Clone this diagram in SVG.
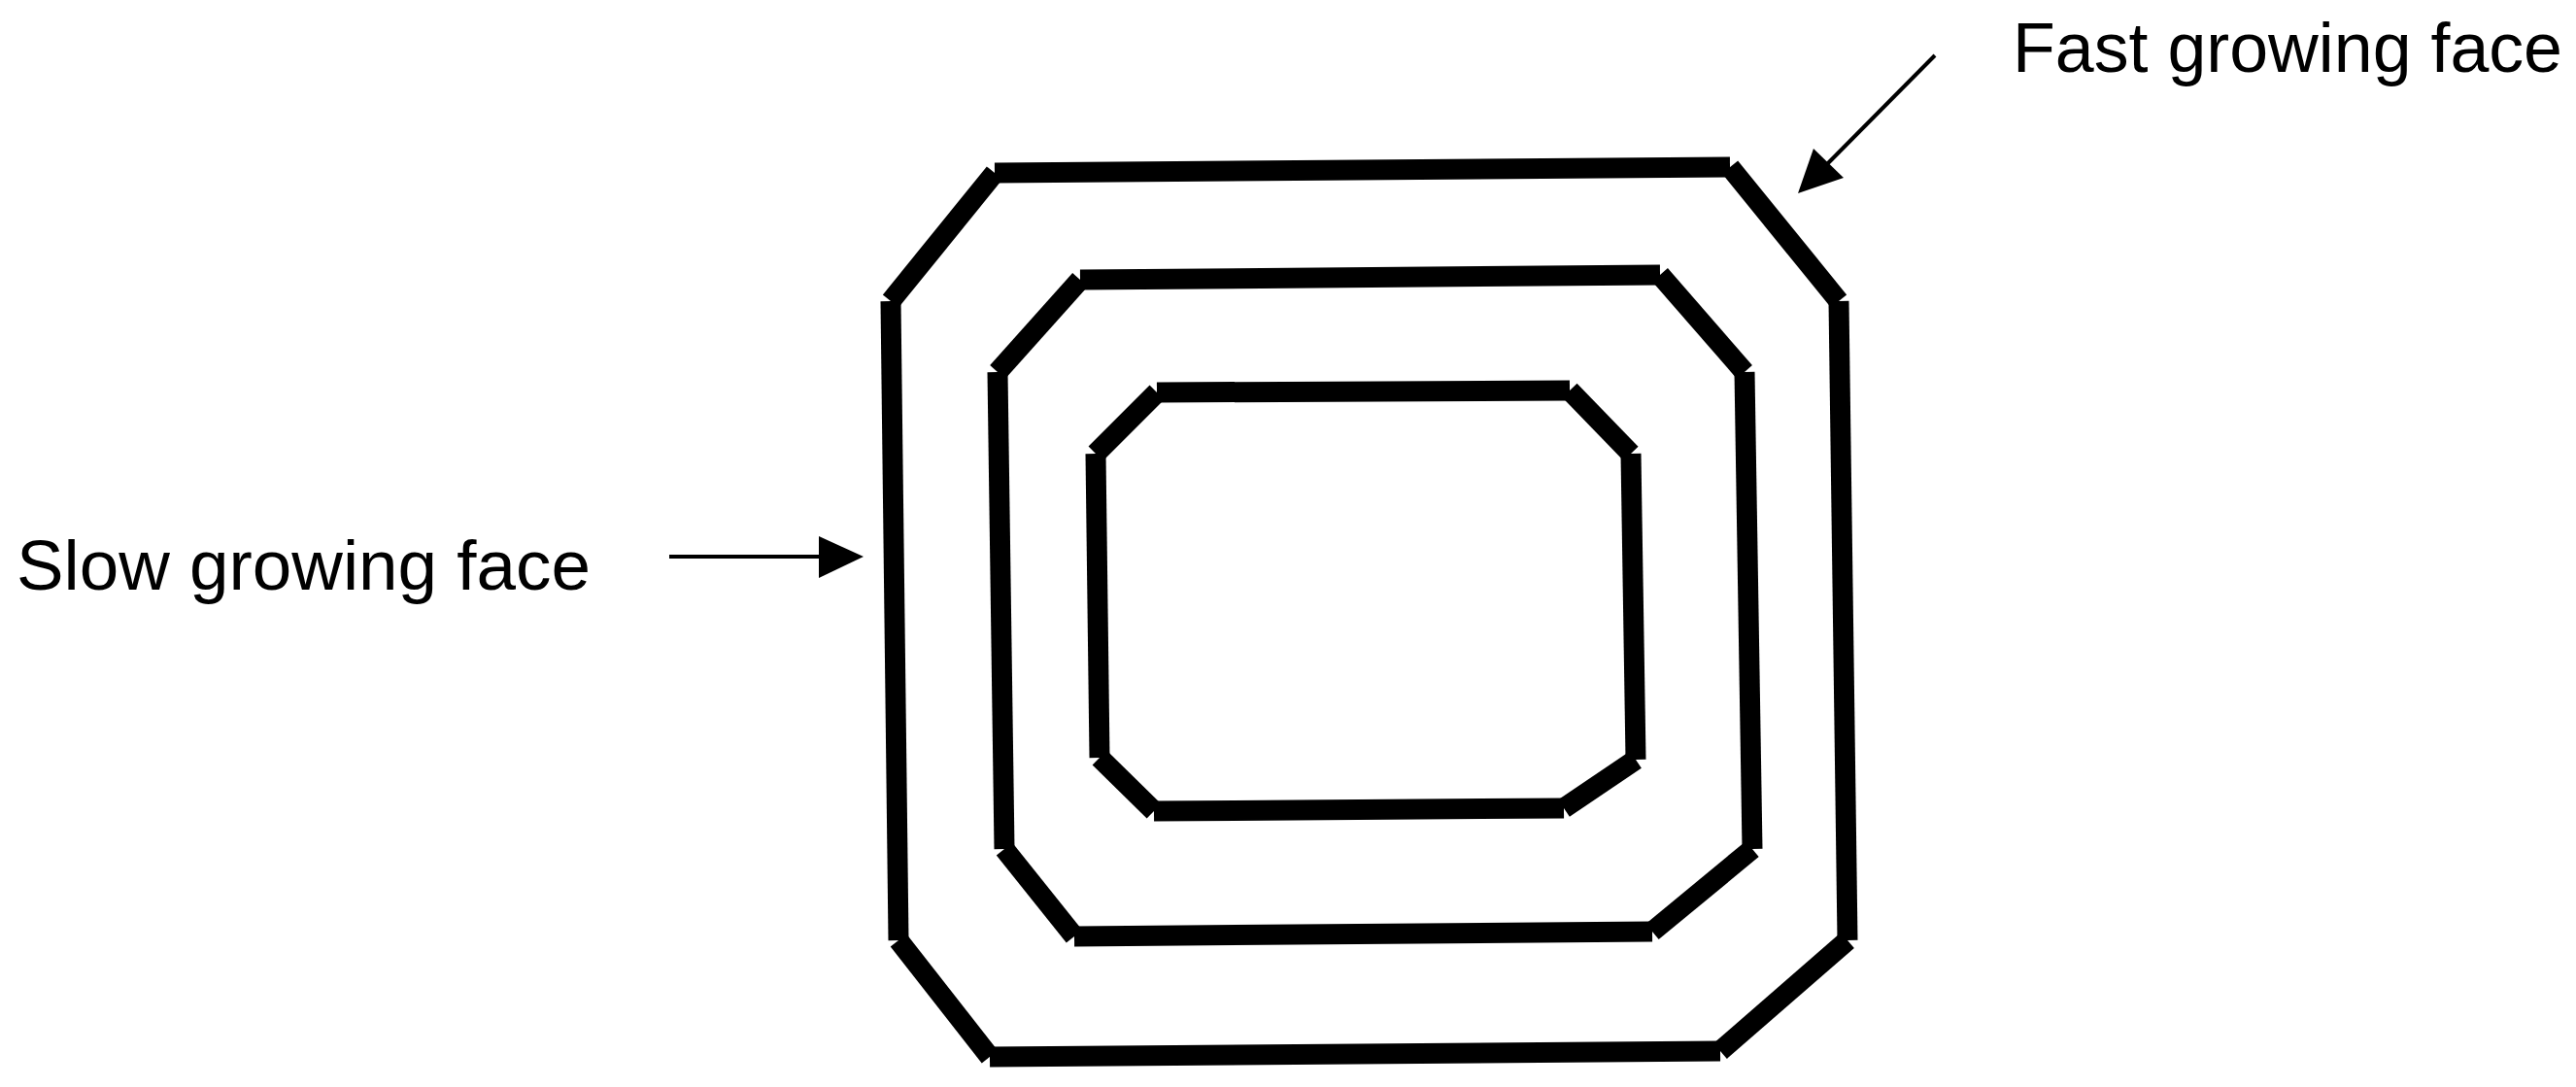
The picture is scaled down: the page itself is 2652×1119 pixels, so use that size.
<svg xmlns="http://www.w3.org/2000/svg" width="2652" height="1119" viewBox="0 0 2652 1119">
<style>
.edge{stroke:#000;stroke-width:21;stroke-linecap:butt;fill:none}
.arr{stroke:#000;stroke-width:4;fill:none}
.head{fill:#000;stroke:none}
.lbl{font-family:"Liberation Sans",Arial,sans-serif;font-size:72px;fill:#000}
</style>
<rect width="2652" height="1119" fill="#fff"/>
<g id="outer">
<line class="edge" x1="1024" y1="178" x2="1781" y2="172"/>
<line class="edge" x1="1781" y1="172" x2="1893" y2="310"/>
<line class="edge" x1="1893" y1="310" x2="1902" y2="968"/>
<line class="edge" x1="1902" y1="968" x2="1771" y2="1082"/>
<line class="edge" x1="1771" y1="1082" x2="1019" y2="1088"/>
<line class="edge" x1="1019" y1="1088" x2="925" y2="968"/>
<line class="edge" x1="925" y1="968" x2="917" y2="310"/>
<line class="edge" x1="917" y1="310" x2="1024" y2="178"/>
</g>
<g id="middle">
<line class="edge" x1="1112" y1="288" x2="1709" y2="283"/>
<line class="edge" x1="1709" y1="283" x2="1796" y2="383"/>
<line class="edge" x1="1796" y1="383" x2="1804" y2="874"/>
<line class="edge" x1="1804" y1="874" x2="1701" y2="959"/>
<line class="edge" x1="1701" y1="959" x2="1106" y2="964"/>
<line class="edge" x1="1106" y1="964" x2="1034" y2="874"/>
<line class="edge" x1="1034" y1="874" x2="1027" y2="383"/>
<line class="edge" x1="1027" y1="383" x2="1112" y2="288"/>
</g>
<g id="inner">
<line class="edge" x1="1191" y1="404" x2="1616" y2="402"/>
<line class="edge" x1="1616" y1="402" x2="1679" y2="467"/>
<line class="edge" x1="1679" y1="467" x2="1684" y2="782"/>
<line class="edge" x1="1684" y1="782" x2="1610" y2="832"/>
<line class="edge" x1="1610" y1="832" x2="1188" y2="835"/>
<line class="edge" x1="1188" y1="835" x2="1132" y2="780"/>
<line class="edge" x1="1132" y1="780" x2="1128" y2="467"/>
<line class="edge" x1="1128" y1="467" x2="1191" y2="404"/>
</g>
<g id="connectors">
<line class="arr" x1="1992" y1="57" x2="1878" y2="172"/>
<polygon class="head" points="1851,199 1867,153 1898,183"/>
<line class="arr" x1="689" y1="573" x2="846" y2="573"/>
<polygon class="head" points="889,573 843,552 843,595"/>
</g>
<g id="label-fast">
<text class="lbl" x="2072" y="74" textLength="566" lengthAdjust="spacingAndGlyphs">Fast growing face</text>
</g>
<g id="label-slow">
<text class="lbl" x="17" y="607" textLength="591" lengthAdjust="spacingAndGlyphs">Slow growing face</text>
</g>
</svg>
